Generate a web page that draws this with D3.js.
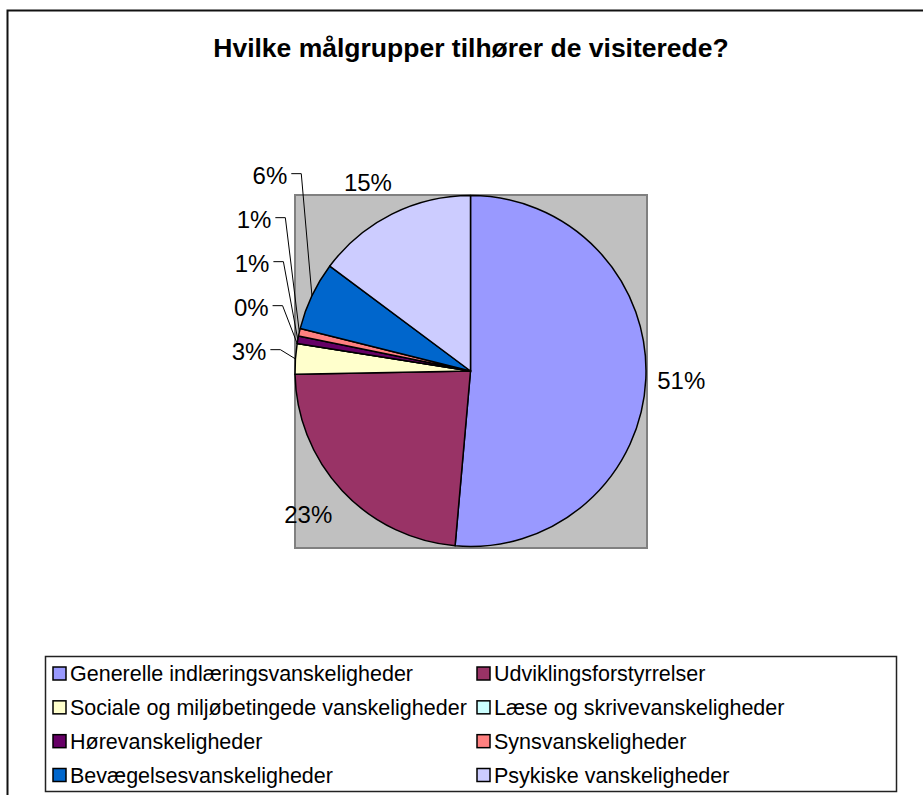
<!DOCTYPE html>
<html>
<head>
<meta charset="utf-8">
<script src="https://cdn.jsdelivr.net/npm/d3@7"></script>
<style>
  body { margin: 0; background: #fff; }
  svg text { font-family: "Liberation Sans", Arial, sans-serif; }
</style>
</head>
<body>
<div id="chart"></div>
<script>
// data (shares in percent)
const categories = [
  "Generelle indlæringsvanskeligheder",
  "Udviklingsforstyrrelser",
  "Sociale og miljøbetingede vanskeligheder",
  "Læse og skrivevanskeligheder",
  "Hørevanskeligheder",
  "Synsvanskeligheder",
  "Bevægelsesvanskeligheder",
  "Psykiske vanskeligheder"
];
const values = [51.4, 23.3, 2.8, 0, 0.7, 0.7, 6.3, 14.8];
const colors = ["#9999FF", "#993366", "#FFFFCC", "#CCFFFF", "#660066", "#FF8080", "#0066CC", "#CCCCFF"];
const title = "Hvilke målgrupper tilhører de visiterede?";

(function () {
  const width = 923;
  const height = 795;
  const svg = d3.select("#chart")
    .append("svg")
    .attr("width", width)
    .attr("height", height);

  // outer chart frame (runs off the right and bottom edge)
  svg.append("rect")
    .attr("x", 7.5).attr("y", 10.5)
    .attr("width", 930).attr("height", 800)
    .attr("fill", "#fff")
    .attr("stroke", "#111")
    .attr("stroke-width", 2);

  svg.append("text")
    .attr("x", 471).attr("y", 57)
    .attr("text-anchor", "middle")
    .attr("font-weight", "bold")
    .attr("font-size", "26.5px")
    .text(title);

  const cx = 470.5, cy = 371, r = 175.5;

  // grey plot area
  svg.append("rect")
    .attr("x", cx - r).attr("y", cy - r - 0.5)
    .attr("width", 2 * r + 1).attr("height", 2 * r + 2)
    .attr("fill", "#C0C0C0")
    .attr("stroke", "#808080")
    .attr("stroke-width", 2);

  const total = d3.sum(values);
  const pie = d3.pie().sort(null).value(d => d);
  const arcs = pie(values);
  const arc = d3.arc().innerRadius(0).outerRadius(r);

  const g = svg.append("g").attr("transform", "translate(" + cx + "," + cy + ")");

  g.selectAll("path")
    .data(arcs)
    .join("path")
    .attr("d", arc)
    .attr("fill", (d, i) => colors[i])
    .attr("stroke", "#000")
    .attr("stroke-width", 1.5)
    .attr("stroke-linejoin", "round");

  // labels
  const pct = v => Math.round(v / total * 100) + "%";
  const mid = d => (d.startAngle + d.endAngle) / 2;
  const polar = (a, rr) => [Math.sin(a) * rr, -Math.cos(a) * rr];

  // big slices sit just outside the pie
  arcs.forEach((d, i) => {
    const share = values[i] / total;
    if (share < 0.07) return;
    const p = polar(mid(d), 211);
    g.append("text")
      .attr("x", p[0] - (p[0] < 0 ? 8 : 0)).attr("y", p[1])
      .attr("dy", "0.35em")
      .attr("text-anchor", "middle")
      .attr("font-size", "24px")
      .text(pct(values[i]));
  });

  // small slices are stacked on the left with leader lines
  let prevY = null;
  arcs.forEach((d, i) => {
    const share = values[i] / total;
    if (share >= 0.07) return;
    const a = mid(d);
    const p = polar(a, 222);
    let y = p[1] - 4;
    if (prevY !== null) y = Math.min(y, prevY - 44);
    prevY = y;
    const t = g.append("text")
      .attr("x", p[0]).attr("y", y)
      .attr("dy", "0.35em")
      .attr("text-anchor", "middle")
      .attr("font-size", "24px")
      .text(pct(values[i]));
    const box = t.node().getBBox();
    const x0 = box.x + box.width + 4;
    const edge = polar(a, r);
    g.append("polyline")
      .attr("points", [[x0, y - 2], [x0 + 10, y - 2], edge].map(q => q.join(",")).join(" "))
      .attr("fill", "none")
      .attr("stroke", "#000")
      .attr("stroke-width", 1);
  });

  // legend
  svg.append("rect")
    .attr("x", 45.5).attr("y", 656.5)
    .attr("width", 851).attr("height", 135)
    .attr("fill", "#fff")
    .attr("stroke", "#222")
    .attr("stroke-width", 1.5);

  const colX = d3.scaleOrdinal().domain([0, 1]).range([53, 477]);
  const rowY = d3.scaleLinear().domain([0, 3]).range([673.5, 775]);

  const item = svg.selectAll(".legend-item")
    .data(categories)
    .join("g")
    .attr("class", "legend-item")
    .attr("transform", (d, i) => "translate(" + colX(i % 2) + "," + rowY(Math.floor(i / 2)) + ")");

  item.append("rect")
    .attr("x", 0).attr("y", -6.5)
    .attr("width", 13).attr("height", 13)
    .attr("fill", (d, i) => colors[i])
    .attr("stroke", "#000")
    .attr("stroke-width", 1.5);

  item.append("text")
    .attr("x", 17).attr("y", 0)
    .attr("dy", "0.35em")
    .attr("font-size", "21.5px")
    .text(d => d);
})();
</script>
</body>
</html>
